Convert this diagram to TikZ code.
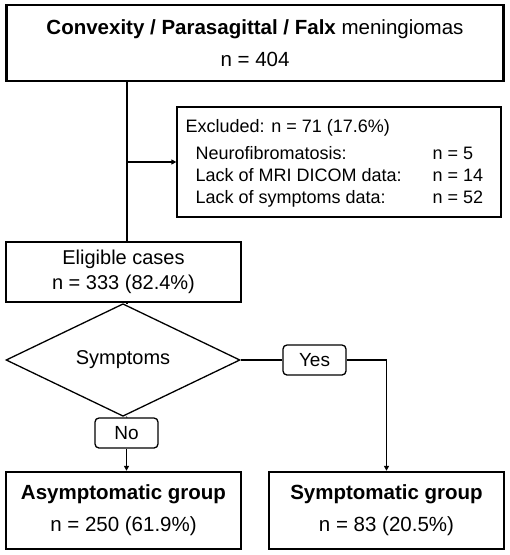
\documentclass[tikz,border=0pt]{standalone}
\usepackage{fontspec}
\setmainfont{Liberation Sans}
\usepackage{tikz}
\usetikzlibrary{shapes.geometric,arrows.meta}

\begin{document}
\begin{tikzpicture}[x=1pt,y=-1pt,line width=1.3pt,
  >={Triangle[length=5pt,width=5pt]},
  bigbox/.style={draw,line width=2.4pt,inner sep=0pt,align=center,minimum width=235pt,minimum height=77pt,font=\fontsize{20.5}{32}\selectfont},
  thinbox/.style={draw,inner sep=0pt,align=center},
  choice/.style={draw,rounded corners=4pt,inner sep=0pt,minimum width=63pt,minimum height=30pt,font=\fontsize{19}{22}\selectfont},
  item/.style={anchor=base west,inner sep=0pt,font=\fontsize{18}{20}\selectfont}]
\useasboundingbox (0,0) rectangle (510,555);

\node[bigbox,minimum width=497pt,minimum height=76pt] (top) at (255,43) {\textbf{Convexity / Parasagittal / Falx} meningiomas\\n = 404};

\node[thinbox,minimum width=324pt,minimum height=110pt] (excl) at (339,162) {};
\node[item] (exhead) at (185,132) {Excluded: n = 71 (17.6\%)};
\node[item] (nf) at (195,159) {Neurofibromatosis:};
\node[item] (nfn) at (432,159) {n = 5};
\node[item] (mri) at (195,181) {Lack of MRI DICOM data:};
\node[item] (mrin) at (432,181) {n = 14};
\node[item] (sd) at (195,203) {Lack of symptoms data:};
\node[item] (sdn) at (432,203) {n = 52};

\node[thinbox,minimum width=235pt,minimum height=60pt,font=\fontsize{20}{25}\selectfont] (elig) at (123.5,272) {Eligible cases\\n = 333 (82.4\%)};

\node[draw,diamond,inner sep=0pt,minimum width=234pt,minimum height=66pt,font=\fontsize{20}{24}\selectfont] (symp) at (123,360) {Symptoms};

\node[choice] (yes) at (314.5,360) {Yes};
\node[choice] (no) at (126.5,433) {No};

\node[bigbox] (asym) at (123.5,510.5) {\textbf{Asymptomatic group}\\n = 250 (61.9\%)};
\node[bigbox] (symg) at (386.5,510.5) {\textbf{Symptomatic group}\\n = 83 (20.5\%)};

\coordinate (spine) at (127,0);
\draw (top.south -| spine) -- (elig.north -| spine);
\draw[->] (excl.west -| spine) -- (excl.west);
\draw (elig.south -| spine) -- (symp.north -| spine);
\draw (symp.east) -- (yes.west);
\draw[->] (yes.east) -| (symg.north);
\draw (symp.south -| spine) -- (no.north);
\draw[->] (no.south) -- (asym.north -| no.south);
\end{tikzpicture}
\end{document}
